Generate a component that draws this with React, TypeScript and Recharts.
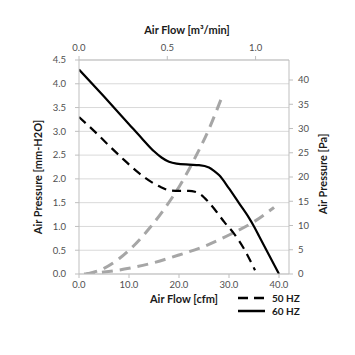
import { CartesianGrid, Label, Legend, Line, LineChart, XAxis, YAxis } from 'recharts';

// fan curves, flow in cfm, pressure in mm-H2O
const flow50 = [0, 3, 6, 9, 12, 15, 16.5, 18, 20, 22, 23.2, 24.5, 26, 27.5, 29, 31, 33, 35.2];
const pressure50 = [3.3, 3.01, 2.7, 2.4, 2.12, 1.9, 1.82, 1.76, 1.75, 1.75, 1.73, 1.66, 1.5, 1.31, 1.1, 0.85, 0.53, 0.08];

const flow60 = [0, 5, 10, 12.5, 15, 16.5, 18, 19.5, 22, 24, 26, 27, 28, 30, 32, 34, 35, 36, 38, 40];
const pressure60 = [4.3, 3.73, 3.15, 2.86, 2.58, 2.45, 2.36, 2.32, 2.3, 2.29, 2.24, 2.17, 2.08, 1.8, 1.49, 1.18, 1.0, 0.8, 0.4, 0];

// system impedance curves
const flowSysA = [1.5, 5, 8, 11, 14, 17, 20, 23, 26, 28.5];
const pressureSysA = [0, 0.12, 0.32, 0.6, 0.95, 1.36, 1.83, 2.4, 3.05, 3.7];

const flowSysB = [1, 5, 10, 15, 20, 25, 30, 35, 39];
const pressureSysB = [0, 0.04, 0.12, 0.24, 0.4, 0.58, 0.82, 1.1, 1.4];

const cfmTicks = [0, 10, 20, 30, 40];
const m3Ticks = [0, 0.5, 1.0];
const mmTicks = [0, 0.5, 1, 1.5, 2, 2.5, 3, 3.5, 4, 4.5];
const paTicks = [0, 5, 10, 15, 20, 25, 30, 35, 40];

const CFM_PER_M3 = 35.315;
const PA_PER_MM = 9.80665;
const X_MAX = 42;
const Y_MAX = 4.5;

const toPoints = (xs: number[], ys: number[]) => xs.map((x, i) => ({ x, y: ys[i] }));

const font = 'Lato, "Open Sans", sans-serif';
const tickStyle = { fontSize: 9.5, fill: '#505050', fontFamily: font };
const titleStyle = { fontSize: 11, fontWeight: 700, fill: '#1a1a1a', fontFamily: font };

const legendItems = [
  { name: '50 HZ', dash: '10 6' },
  { name: '60 HZ', dash: undefined },
];

function FanLegend() {
  return (
    <div style={{ fontFamily: font, fontSize: 10, fontWeight: 700, color: '#1a1a1a' }}>
      {legendItems.map((item) => (
        <div key={item.name} style={{ display: 'flex', alignItems: 'center', height: 13 }}>
          <svg width={28} height={6}>
            <line x1={0} y1={3} x2={27} y2={3} stroke="#000" strokeWidth={2.5} strokeDasharray={item.dash} />
          </svg>
          <span style={{ marginLeft: 6 }}>{item.name}</span>
        </div>
      ))}
    </div>
  );
}

export default function App() {
  return (
    <div style={{ position: 'absolute', left: 0, top: 0, background: '#fff' }}>
      <LineChart width={355} height={355} margin={{ top: 0, right: 0, bottom: 0, left: 0 }}>
        <CartesianGrid vertical={false} stroke="#d9d9d9" yAxisId="left" xAxisId="bottom" />
        <XAxis
          xAxisId="bottom"
          dataKey="x"
          type="number"
          domain={[0, X_MAX]}
          ticks={cfmTicks}
          tickFormatter={(v: number) => v.toFixed(1)}
          height={81}
          tick={tickStyle}
          tickSize={4}
          tickMargin={3}
          stroke="#bfbfbf"
          allowDataOverflow
        >
          <Label
            content={() => (
              <text x={184} y={303} textAnchor="middle" style={titleStyle}>
                Air Flow [cfm]
              </text>
            )}
          />
        </XAxis>
        <XAxis
          xAxisId="top"
          orientation="top"
          dataKey="x"
          type="number"
          domain={[0, X_MAX / CFM_PER_M3]}
          ticks={m3Ticks}
          tickFormatter={(v: number) => v.toFixed(1)}
          height={60}
          tick={tickStyle}
          tickSize={4}
          tickMargin={5}
          stroke="#bfbfbf"
          allowDataOverflow
        >
          <Label
            content={() => (
              <text x={187} y={34} textAnchor="middle" style={titleStyle}>
                Air Flow [m³/min]
              </text>
            )}
          />
        </XAxis>
        <YAxis
          yAxisId="left"
          type="number"
          domain={[0, Y_MAX]}
          ticks={mmTicks}
          tickFormatter={(v: number) => v.toFixed(1)}
          width={79}
          tick={tickStyle}
          tickSize={4}
          tickMargin={9}
          stroke="#bfbfbf"
          allowDataOverflow
        >
          <Label
            content={() => (
              <text x={42} y={177} textAnchor="middle" transform="rotate(-90 42 177)" style={titleStyle}>
                Air Pressure [mm-H2O]
              </text>
            )}
          />
        </YAxis>
        <YAxis
          yAxisId="right"
          orientation="right"
          type="number"
          domain={[0, Y_MAX * PA_PER_MM]}
          ticks={paTicks}
          width={66}
          tick={tickStyle}
          tickSize={4}
          tickMargin={5}
          stroke="#bfbfbf"
          allowDataOverflow
        >
          <Label
            content={() => (
              <text x={327} y={174} textAnchor="middle" transform="rotate(-90 327 174)" style={titleStyle}>
                Air Pressure [Pa]
              </text>
            )}
          />
        </YAxis>
        {/* invisible twin of the 60 HZ curve so the m³/min and Pa axes get drawn */}
        <Line
          xAxisId="top"
          yAxisId="right"
          data={flow60.map((x, i) => ({ x: x / CFM_PER_M3, y: pressure60[i] * PA_PER_MM }))}
          dataKey="y"
          type="monotone"
          stroke="none"
          dot={false}
          legendType="none"
          isAnimationActive={false}
        />
        <Line
          xAxisId="bottom"
          yAxisId="left"
          data={toPoints(flowSysA, pressureSysA)}
          dataKey="y"
          type="monotone"
          stroke="#a6a6a6"
          strokeWidth={3}
          strokeDasharray="11 7"
          dot={false}
          legendType="none"
          isAnimationActive={false}
        />
        <Line
          xAxisId="bottom"
          yAxisId="left"
          data={toPoints(flowSysB, pressureSysB)}
          dataKey="y"
          type="monotone"
          stroke="#a6a6a6"
          strokeWidth={3}
          strokeDasharray="11 7"
          dot={false}
          legendType="none"
          isAnimationActive={false}
        />
        <Line
          xAxisId="bottom"
          yAxisId="left"
          data={toPoints(flow50, pressure50)}
          dataKey="y"
          name="50 HZ"
          type="monotone"
          stroke="#000"
          strokeWidth={2.2}
          strokeDasharray="9 6"
          dot={false}
          isAnimationActive={false}
        />
        <Line
          xAxisId="bottom"
          yAxisId="left"
          data={toPoints(flow60, pressure60)}
          dataKey="y"
          name="60 HZ"
          type="monotone"
          stroke="#000"
          strokeWidth={2.2}
          dot={false}
          isAnimationActive={false}
        />
        <Legend
          layout="horizontal"
          verticalAlign="middle"
          content={() => <FanLegend />}
          wrapperStyle={{ left: 238, top: 291, width: 80 }}
        />
      </LineChart>
    </div>
  );
}
